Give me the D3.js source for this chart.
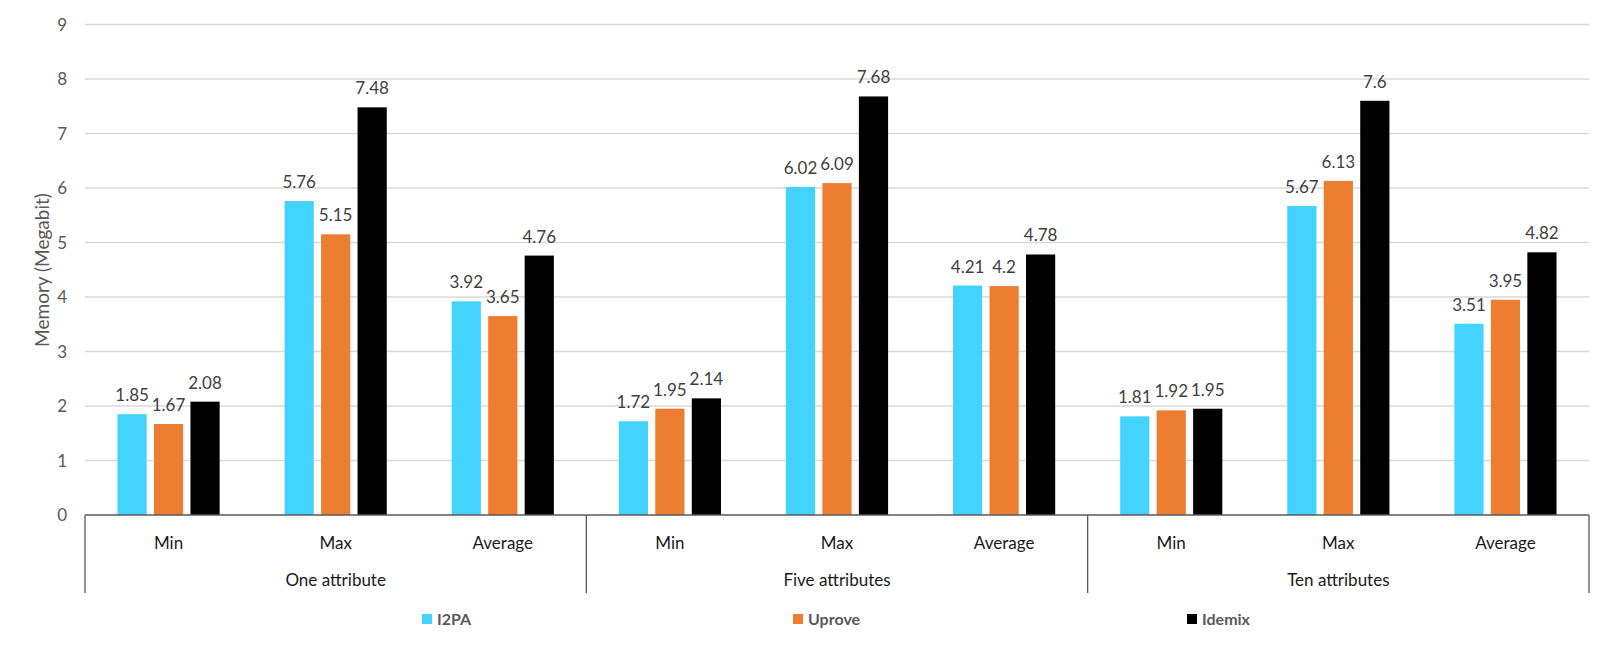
<!DOCTYPE html>
<html>
<head>
<meta charset="utf-8">
<script src="https://cdn.jsdelivr.net/npm/d3@7"></script>
<style>
  body { margin: 0; background: #fff; }
  svg text { font-family: Lato, "Open Sans", sans-serif; }
</style>
</head>
<body>
<div id="viz"></div>
<script>
// data
var groups = ["One attribute", "Five attributes", "Ten attributes"];
var stats = ["Min", "Max", "Average"];
var series = ["I2PA", "Uprove", "Idemix"];
var colors = ["#43D3FF", "#ED7D31", "#000000"];
var i2pa   = [1.85, 5.76, 3.92, 1.72, 6.02, 4.21, 1.81, 5.67, 3.51];
var uprove = [1.67, 5.15, 3.65, 1.95, 6.09, 4.2, 1.92, 6.13, 3.95];
var idemix = [2.08, 7.48, 4.76, 2.14, 7.68, 4.78, 1.95, 7.6, 4.82];
var yTicks = [0, 1, 2, 3, 4, 5, 6, 7, 8, 9];

var values = [i2pa, uprove, idemix];
var cats = [];
groups.forEach(function(g, gi) {
    stats.forEach(function(s, si) { cats.push({key: g + "|" + s, group: g, stat: s, idx: gi * 3 + si}); });
});

var W = 1612, H = 645;
var plotL = 85, plotR = 1589, plotT = 24.5, plotB = 515;

var svg = d3.select("#viz").append("svg")
    .attr("width", W)
    .attr("height", H);

var y = d3.scaleLinear().domain([0, 9]).range([plotB, plotT]);
var x0 = d3.scaleBand().domain(cats.map(function(c) { return c.key; })).range([plotL, plotR]);
var x1 = d3.scaleBand().domain(series).range([0, x0.bandwidth()]).paddingInner(0.2).paddingOuter(0.89);
var xg = d3.scaleBand().domain(groups).range([plotL, plotR]);

// gridlines
svg.append("g").selectAll("line")
    .data(yTicks.filter(function(t) { return t > 0; }))
    .enter().append("line")
    .attr("x1", plotL).attr("x2", plotR)
    .attr("y1", function(d) { return y(d); })
    .attr("y2", function(d) { return y(d); })
    .style("stroke", "#d9d9d9")
    .style("stroke-width", 1.5);

// y tick labels
svg.append("g").selectAll("text")
    .data(yTicks)
    .enter().append("text")
    .attr("x", 67)
    .attr("y", function(d) { return y(d); })
    .attr("dy", "0.36em")
    .attr("text-anchor", "end")
    .style("font-size", "17px")
    .style("fill", "#595959")
    .text(function(d) { return d; });

// y axis title
svg.append("text")
    .attr("transform", "translate(42,270) rotate(-90)")
    .attr("text-anchor", "middle")
    .attr("dy", "0.36em")
    .style("font-size", "19px")
    .style("fill", "#595959")
    .text("Memory (Megabit)");

// bars
var barG = svg.append("g");
series.forEach(function(s, si) {
    barG.selectAll("rect.s" + si)
        .data(cats)
        .enter().append("rect")
        .attr("class", "s" + si)
        .attr("x", function(c) { return x0(c.key) + x1(s); })
        .attr("width", x1.bandwidth())
        .attr("y", function(c) { return y(values[si][c.idx]); })
        .attr("height", function(c) { return plotB - y(values[si][c.idx]); })
        .style("fill", colors[si]);

    barG.selectAll("text.s" + si)
        .data(cats)
        .enter().append("text")
        .attr("class", "s" + si)
        .attr("x", function(c) { return x0(c.key) + x1(s) + x1.bandwidth() / 2; })
        .attr("y", function(c) { return y(values[si][c.idx]) - 13; })
        .attr("text-anchor", "middle")
        .style("font-size", "17px")
        .style("fill", "#404040")
        .text(function(c) { return values[si][c.idx]; });
});

// category axis: baseline, separators, labels
svg.append("line")
    .attr("x1", plotL).attr("x2", plotR)
    .attr("y1", plotB).attr("y2", plotB)
    .style("stroke", "#595959").style("stroke-width", 1.3);

var seps = groups.map(function(g) { return xg(g); }).concat([plotR]);
svg.append("g").selectAll("line")
    .data(seps)
    .enter().append("line")
    .attr("x1", function(d) { return d; }).attr("x2", function(d) { return d; })
    .attr("y1", plotB).attr("y2", 593)
    .style("stroke", "#595959").style("stroke-width", 1.3);

svg.append("g").selectAll("text")
    .data(cats)
    .enter().append("text")
    .attr("x", function(c) { return x0(c.key) + x0.bandwidth() / 2; })
    .attr("y", 543)
    .attr("dy", "0.36em")
    .attr("text-anchor", "middle")
    .style("font-size", "17px")
    .style("fill", "#1a1a1a")
    .text(function(c) { return c.stat; });

svg.append("g").selectAll("text")
    .data(groups)
    .enter().append("text")
    .attr("x", function(g) { return xg(g) + xg.bandwidth() / 2; })
    .attr("y", 580)
    .attr("dy", "0.36em")
    .attr("text-anchor", "middle")
    .style("font-size", "17px")
    .style("fill", "#1a1a1a")
    .text(function(g) { return g; });

// legend
var legendX = [422, 793, 1187];
var leg = svg.append("g").selectAll("g")
    .data(series)
    .enter().append("g")
    .attr("transform", function(d, i) { return "translate(" + legendX[i] + ",614)"; });
leg.append("rect")
    .attr("width", 10).attr("height", 10)
    .style("fill", function(d, i) { return colors[i]; });
leg.append("text")
    .attr("x", 15).attr("y", 5)
    .attr("dy", "0.36em")
    .style("font-size", "16px")
    .style("font-weight", "bold")
    .style("fill", "#595959")
    .text(function(d) { return d; });
</script>
</body>
</html>
